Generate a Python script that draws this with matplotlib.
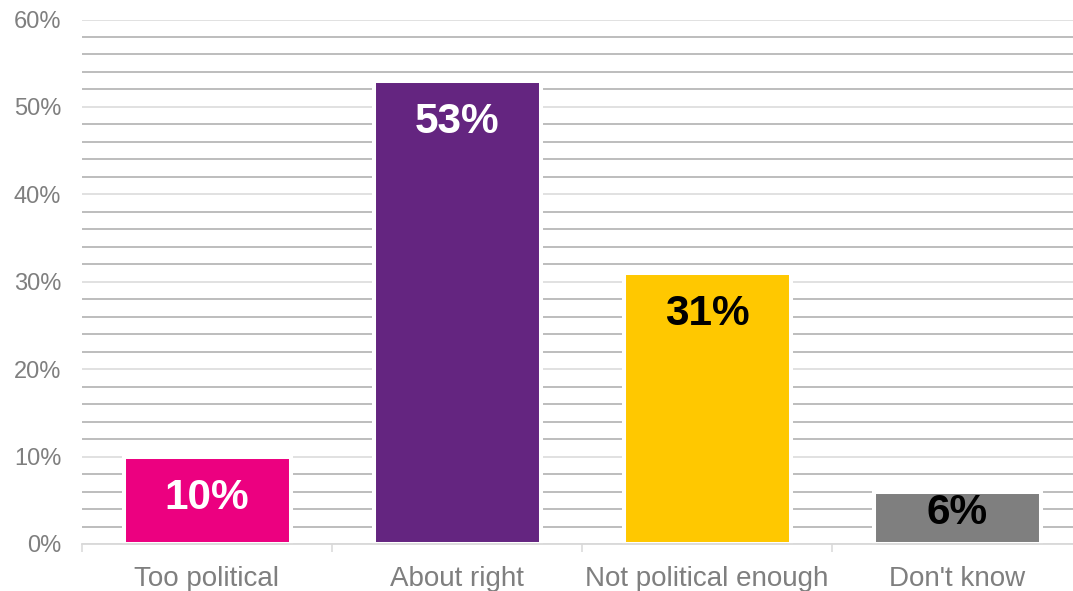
import matplotlib
matplotlib.use('Agg')
import matplotlib.pyplot as plt
from matplotlib.ticker import MultipleLocator, FuncFormatter, FixedLocator

categories = ['Too political', 'About right', 'Not political enough', "Don't know"]
values = [10, 53, 31, 6]
bar_colors = ['#EC0080', '#642580', '#FFC800', '#7F7F7F']
label_colors = ['white', 'white', 'black', 'black']

plt.rcParams['font.family'] = ['Liberation Sans', 'DejaVu Sans']

fig = plt.figure(figsize=(10.73, 5.91), dpi=100)
# plot area runs past the right edge of the picture, as in the original
ax = fig.add_axes([82 / 1073, 47 / 591, 1000 / 1073, 524.5 / 591])

x = list(range(len(categories)))
ax.bar(x, values, width=0.668, color=bar_colors, edgecolor='white',
       linewidth=2.9, zorder=3)

# value labels inside the top of each bar, kept inside the plot for short bars
for xi, v, c in zip(x, values, label_colors):
    y = max(v - 4.7, 3.6)
    ax.text(xi, y, f'{v}%', ha='center', va='center', fontsize=30.5,
            fontweight='bold', color=c, zorder=4)

ax.set_xlim(-0.5, len(categories) - 0.5)
ax.set_ylim(0, 60)

# gridlines: every 10% light, in-between 2% steps darker
ax.yaxis.set_major_locator(MultipleLocator(10))
ax.yaxis.set_minor_locator(MultipleLocator(2))
ax.yaxis.set_major_formatter(FuncFormatter(lambda v, p: f'{v:.0f}%'))
ax.grid(axis='y', which='major', color='#D9D9D9', linewidth=1.1, zorder=1)
ax.grid(axis='y', which='minor', color='#ABABAB', linewidth=1.1, zorder=1)
ax.set_axisbelow(True)

ax.tick_params(axis='y', which='both', length=0, pad=15, labelsize=17,
               labelcolor='#7F7F7F')

ax.set_xticks(x)
ax.set_xticklabels(categories)
ax.xaxis.set_minor_locator(FixedLocator([i - 0.5 for i in range(len(categories) + 1)]))
ax.tick_params(axis='x', which='major', length=0, pad=15.5, labelsize=20,
               labelcolor='#7F7F7F')
ax.tick_params(axis='x', which='minor', length=6, width=1.1, color='#D9D9D9',
               direction='out')

for s in ['top', 'right', 'left']:
    ax.spines[s].set_visible(False)
ax.spines['bottom'].set_color('#D9D9D9')
ax.spines['bottom'].set_linewidth(1.3)
ax.spines['bottom'].set_zorder(5)

fig.savefig('out.png', dpi=100)
